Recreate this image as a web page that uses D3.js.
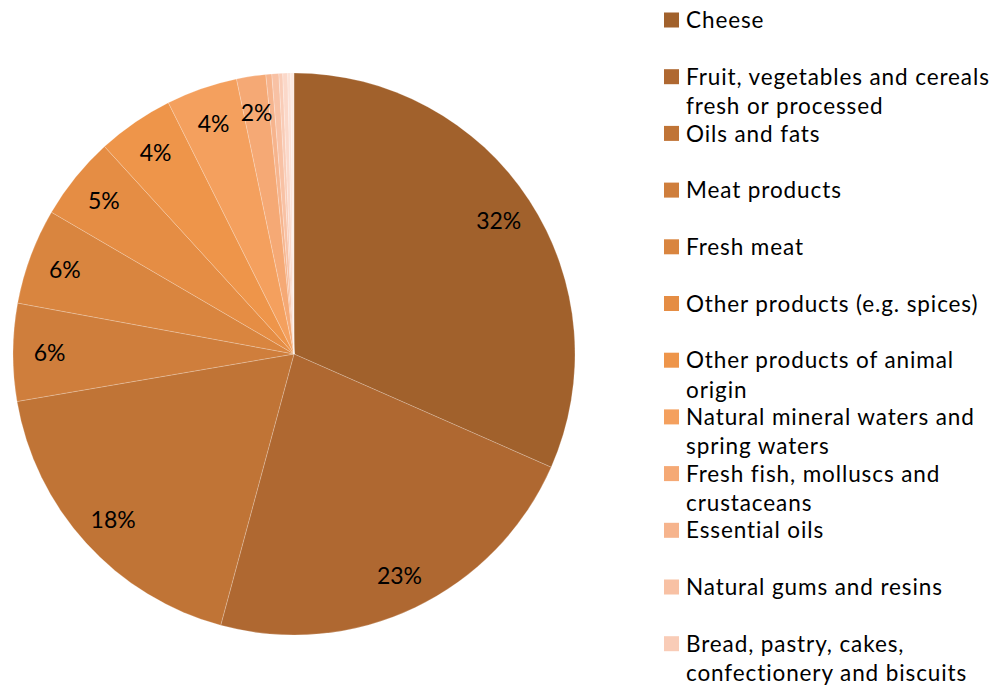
<!DOCTYPE html>
<html>
<head>
<meta charset="utf-8">
<script src="https://cdn.jsdelivr.net/npm/d3@7"></script>
<style>
  html, body { margin: 0; padding: 0; background: #fff; }
  svg { display: block; }
  text { font-family: Lato, "Open Sans", sans-serif; fill: #000; }
</style>
</head>
<body>
<svg id="chart" width="1000" height="690"></svg>
<script>
// Product categories, in slice order (clockwise from 12 o'clock)
const categories = [
  "Cheese",
  "Fruit, vegetables and cereals fresh or processed",
  "Oils and fats",
  "Meat products",
  "Fresh meat",
  "Other products (e.g. spices)",
  "Other products of animal origin",
  "Natural mineral waters and spring waters",
  "Fresh fish, molluscs and crustaceans",
  "Essential oils",
  "Natural gums and resins",
  "Bread, pastry, cakes, confectionery and biscuits",
  "Beer",
  "Chocolate and derived products",
  "Other"
];

// Share of each category, in percent
const shares = [31.6, 22.6, 18.1, 5.6, 5.52, 4.8, 4.4, 4.1, 1.68, 0.34, 0.4, 0.22, 0.28, 0.17, 0.19];

// Legend lines (wrapped), one entry per visible legend item
const legendLines = [
  ["Cheese"],
  ["Fruit, vegetables and cereals", "fresh or processed"],
  ["Oils and fats"],
  ["Meat products"],
  ["Fresh meat"],
  ["Other products (e.g. spices)"],
  ["Other products of animal", "origin"],
  ["Natural mineral waters and", "spring waters"],
  ["Fresh fish, molluscs and", "crustaceans"],
  ["Essential oils"],
  ["Natural gums and resins"],
  ["Bread, pastry, cakes,", "confectionery and biscuits"]
];

// Brown-to-peach palette
const colors = [
  "#A1612C", "#AF6831", "#C07436", "#CF7E3C", "#D9853F", "#E58D44",
  "#EE954A", "#F4A05E", "#F5A975", "#F6B48D", "#F8C1A4", "#F9CCB7",
  "#FBD8C9", "#FCE2D7", "#FDEBE3"
];

const data = categories.map((c, i) => ({ name: c, value: shares[i] }));
const total = d3.sum(shares);

const svg = d3.select("#chart");
const cx = 294, cy = 354, R = 281;

const color = d3.scaleOrdinal().domain(categories).range(colors);

const pie = d3.pie().sort(null).value(d => d.value);
const arcs = pie(data);

const arc = d3.arc().innerRadius(0).outerRadius(R);
const labelArc = d3.arc().innerRadius(R * 0.87).outerRadius(R * 0.87);

const g = svg.append("g").attr("transform", `translate(${cx},${cy})`);

g.selectAll("path.slice")
  .data(arcs)
  .join("path")
  .attr("class", "slice")
  .attr("d", arc)
  .attr("fill", d => color(d.data.name))
  .attr("stroke", "rgba(255,255,255,0.35)")
  .attr("stroke-width", 0.6);

const pctFmt = v => Math.round(v / total * 100) + "%";

g.selectAll("text.pct")
  .data(arcs.filter(d => d.data.value / total * 100 >= 1))
  .join("text")
  .attr("class", "pct")
  .attr("transform", d => `translate(${labelArc.centroid(d)})`)
  .attr("text-anchor", "middle")
  .attr("dominant-baseline", "central")
  .style("font-size", "23px")
  .text(d => pctFmt(d.data.value));

// Legend
const legend = svg.append("g").attr("transform", "translate(664,20)");
const rowStep = 56.7, lineH = 29.5;

const item = legend.selectAll("g.item")
  .data(legendLines)
  .join("g")
  .attr("class", "item")
  .attr("transform", (d, i) => `translate(0,${i * rowStep})`);

item.append("rect")
  .attr("x", 0).attr("y", -7.5)
  .attr("width", 15).attr("height", 15)
  .attr("fill", (d, i) => colors[i]);

item.append("text")
  .attr("x", 22)
  .style("font-size", "22.5px")
  .style("letter-spacing", "0.9px")
  .selectAll("tspan")
  .data(d => d)
  .join("tspan")
  .attr("x", 22)
  .attr("y", (d, j) => j * lineH)
  .attr("dy", "0.36em")
  .text(d => d);
</script>
</body>
</html>
